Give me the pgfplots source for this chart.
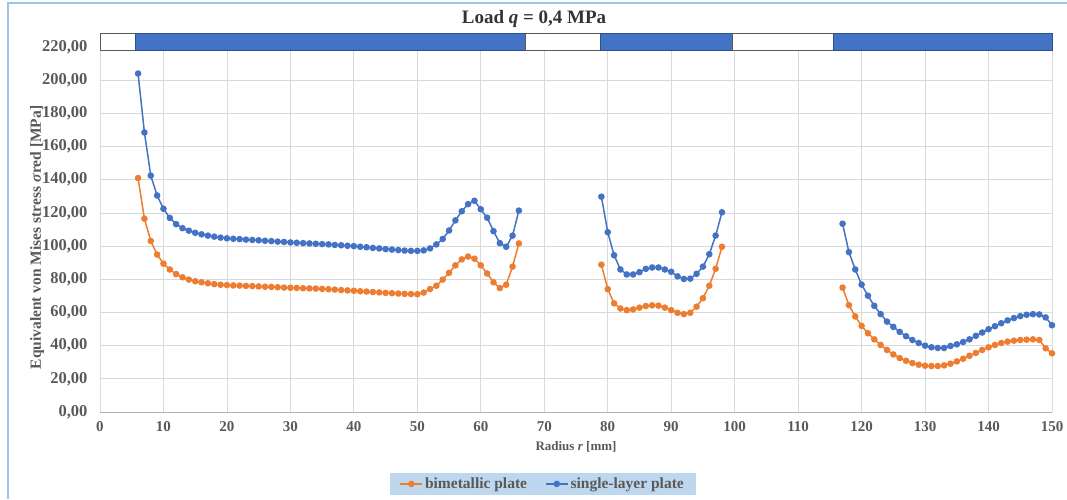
\documentclass[border=0pt]{standalone}
\usepackage{pgfplots}
\usepackage{pgfplotstable}
\pgfplotsset{compat=1.18}
\usepackage{fontspec}
\setmainfont{Liberation Serif}
\definecolor{xlblue}{HTML}{4472C4}
\definecolor{xlorange}{HTML}{ED7D31}
\definecolor{gridgray}{HTML}{D9D9D9}
\definecolor{txtgray}{HTML}{595959}
\definecolor{legbg}{HTML}{BDD7EE}
\definecolor{framebl}{HTML}{9DC3E6}

\pgfplotstableread{
r v
6 204.0
7 168.5
8 142.5
9 130.5
10 122.5
11 117.0
12 113.2
13 110.8
14 109.3
15 108.0
16 107.1
17 106.3
18 105.7
19 105.1
20 104.7
21 104.4
22 104.2
23 103.9
24 103.7
25 103.5
26 103.2
27 103.0
28 102.7
29 102.5
30 102.2
31 102.0
32 101.8
33 101.6
34 101.4
35 101.2
36 101.0
37 100.7
38 100.5
39 100.2
40 100.0
41 99.6
42 99.3
43 98.9
44 98.6
45 98.2
46 97.9
47 97.6
48 97.3
49 97.1
50 97.1
51 97.4
52 98.6
53 101.0
54 104.3
55 109.4
56 115.5
57 121.0
58 125.3
59 127.3
60 122.2
61 117.1
62 109.0
63 101.8
64 99.6
65 106.3
66 121.4
72 nan
79 129.8
80 108.4
81 94.5
82 85.9
83 82.9
84 82.9
85 84.3
86 86.3
87 87.1
88 87.1
89 85.9
90 84.5
91 81.8
92 80.2
93 80.4
94 83.3
95 87.6
96 95.1
97 106.3
98 120.4
108 nan
117 113.5
118 96.4
119 85.9
120 76.8
121 70.1
122 64.0
123 59.0
124 54.5
125 51.3
126 48.3
127 45.7
128 43.4
129 41.6
130 40.0
131 39.0
132 38.6
133 38.6
134 39.8
135 40.8
136 42.2
137 43.8
138 45.9
139 47.9
140 49.9
141 51.7
142 53.5
143 55.2
144 56.6
145 57.8
146 58.6
147 59.0
148 58.8
149 57.0
150 52.3
}\single

\pgfplotstableread{
r v
6 141.0
7 116.5
8 103.1
9 94.9
10 89.4
11 85.9
12 83.1
13 81.2
14 79.8
15 78.8
16 78.2
17 77.6
18 77.1
19 76.7
20 76.5
21 76.3
22 76.2
23 76.0
24 75.9
25 75.7
26 75.5
27 75.4
28 75.2
29 75.0
30 74.9
31 74.8
32 74.6
33 74.5
34 74.4
35 74.2
36 74.0
37 73.8
38 73.5
39 73.3
40 73.1
41 72.8
42 72.6
43 72.3
44 72.1
45 71.8
46 71.6
47 71.4
48 71.2
49 71.1
50 71.0
51 72.0
52 74.1
53 76.1
54 79.8
55 83.9
56 88.4
57 92.0
58 93.7
59 92.4
60 88.4
61 83.5
62 78.2
63 74.7
64 76.7
65 87.6
66 101.6
72 nan
79 88.8
80 74.1
81 65.5
82 62.4
83 61.4
84 61.8
85 62.9
86 63.9
87 64.3
88 64.1
89 62.9
90 61.4
91 59.8
92 59.0
93 59.8
94 63.5
95 68.6
96 76.1
97 86.3
98 99.6
108 nan
117 75.0
118 64.4
119 57.6
120 51.9
121 47.5
122 43.8
123 40.4
124 37.4
125 34.7
126 32.5
127 30.9
128 29.5
129 28.5
130 27.9
131 27.7
132 27.7
133 28.1
134 29.1
135 30.5
136 32.1
137 33.9
138 35.6
139 37.4
140 39.0
141 40.4
142 41.6
143 42.4
144 43.0
145 43.4
146 43.6
147 43.8
148 43.4
149 38.4
150 35.4
}\bimetal

\begin{document}
\begin{tikzpicture}
\begin{axis}[
  scale only axis,
  width=952pt, height=365pt,
  xmin=0, xmax=150, ymin=0, ymax=220,
  xtick={0,10,...,150},
  ytick={0,20,...,220},
  grid=major,
  major grid style={gridgray, line width=0.8pt},
  axis x line*=bottom,
  axis y line*=left,
  x axis line style={draw=gray!60, line width=0.8pt},
  y axis line style={draw=none},
  tick style={draw=none},
  clip=false,
  unbounded coords=jump,
  /pgf/number format/assume math mode=true,
  xticklabel style={yshift=-6pt, font=\bfseries\fontsize{15}{17}\selectfont, text=txtgray},
  yticklabel style={xshift=-9pt, font=\bfseries\fontsize{16.5}{18}\selectfont, text=txtgray, /pgf/number format/.cd, fixed, fixed zerofill, precision=2, use comma},
  xlabel={Radius \textit{r} [mm]},
  every axis x label/.style={at={(axis description cs:0.5,0)}, anchor=center, yshift=-35pt, font=\bfseries\fontsize{13}{15}\selectfont, text=txtgray},
  ylabel={Equivalent von Mises stress \textit{σ}red [MPa]},
  every axis y label/.style={at={(axis description cs:-0.066,0.478)}, anchor=center, rotate=90, font=\bfseries\fontsize{15.5}{17}\selectfont, text=txtgray},
  legend columns=2,
  legend style={at={(0.465,-0.197)}, anchor=center, fill=legbg, draw=none,
    font=\bfseries\fontsize{15.5}{17}\selectfont, text=txtgray,
    /tikz/every even column/.append style={column sep=16pt},
    inner xsep=10pt, inner ysep=3pt},
  legend image code/.code={\draw[#1, mark repeat=2, mark phase=2] plot coordinates {(0pt,0pt) (11pt,0pt) (22pt,0pt)};},
]
% structural bar at top
\addplot[fill=white, draw=gray!70!black, line width=0.8pt, forget plot] coordinates {(0,218) (5.5,218) (5.5,228) (0,228)} -- cycle;
\addplot[fill=xlblue, draw=xlblue!70!black, line width=0.8pt, forget plot] coordinates {(5.5,218) (67,218) (67,228) (5.5,228)} -- cycle;
\addplot[fill=white, draw=gray!70!black, line width=0.8pt, forget plot] coordinates {(67,218) (78.8,218) (78.8,228) (67,228)} -- cycle;
\addplot[fill=xlblue, draw=xlblue!70!black, line width=0.8pt, forget plot] coordinates {(78.8,218) (99.7,218) (99.7,228) (78.8,228)} -- cycle;
\addplot[fill=white, draw=gray!70!black, line width=0.8pt, forget plot] coordinates {(99.7,218) (115.5,218) (115.5,228) (99.7,228)} -- cycle;
\addplot[fill=xlblue, draw=xlblue!70!black, line width=0.8pt, forget plot] coordinates {(115.5,218) (150,218) (150,228) (115.5,228)} -- cycle;

\addplot[color=xlorange, line width=1.5pt, mark=*, mark size=2.5pt, mark options={solid, fill=xlorange, draw=xlorange}] table[x=r, y=v] {\bimetal};
\addlegendentry{bimetallic plate}
\addplot[color=xlblue, line width=1.5pt, mark=*, mark size=2.5pt, mark options={solid, fill=xlblue, draw=xlblue}] table[x=r, y=v] {\single};
\addlegendentry{single-layer plate}
\end{axis}
\node[font=\bfseries\fontsize{19}{21}\selectfont, text=black!80] at (434pt,393pt) {Load \textit{q} = 0,4 MPa};
\draw[framebl, line width=2pt] (-92pt,-87pt) -- (-92pt,409pt) -- (967pt,409pt);
\pgfresetboundingbox
\useasboundingbox (-100pt,-87pt) rectangle (967pt,412pt);
\end{tikzpicture}
\end{document}
